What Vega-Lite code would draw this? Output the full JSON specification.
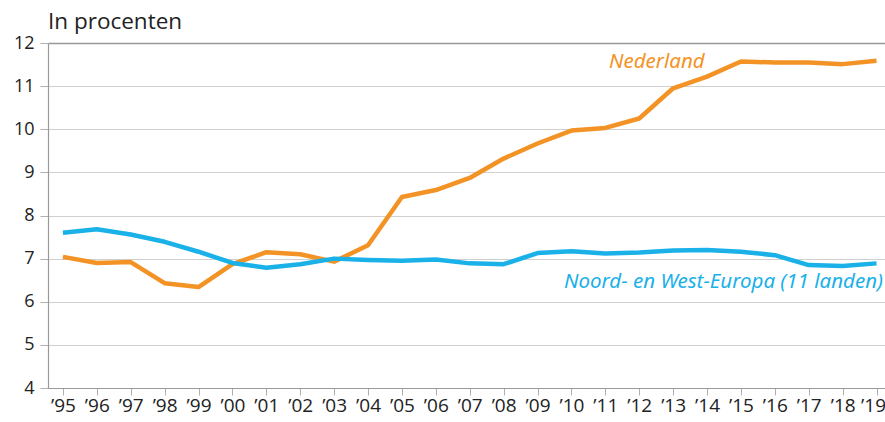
{
  "$schema": "https://vega.github.io/schema/vega-lite/v6.json",
  "width": 837,
  "height": 345,
  "autosize": {"type": "none"},
  "padding": {"left": 48, "top": 43, "right": 0, "bottom": 34},
  "background": "white",
  "config": {"view": {"stroke": null}, "font": "Open Sans"},
  "title": {"text": "In procenten", "anchor": "start", "frame": "group", "fontSize": 22.5, "fontWeight": "normal", "color": "#222", "offset": 1, "font": "Open Sans"},
  "datasets": {
    "series": [
      {"year": 1995, "series": "Nederland", "value": 7.04},
      {"year": 1996, "series": "Nederland", "value": 6.90},
      {"year": 1997, "series": "Nederland", "value": 6.92},
      {"year": 1998, "series": "Nederland", "value": 6.43},
      {"year": 1999, "series": "Nederland", "value": 6.34},
      {"year": 2000, "series": "Nederland", "value": 6.87},
      {"year": 2001, "series": "Nederland", "value": 7.15},
      {"year": 2002, "series": "Nederland", "value": 7.10},
      {"year": 2003, "series": "Nederland", "value": 6.93},
      {"year": 2004, "series": "Nederland", "value": 7.31},
      {"year": 2005, "series": "Nederland", "value": 8.43},
      {"year": 2006, "series": "Nederland", "value": 8.59},
      {"year": 2007, "series": "Nederland", "value": 8.87},
      {"year": 2008, "series": "Nederland", "value": 9.32},
      {"year": 2009, "series": "Nederland", "value": 9.67},
      {"year": 2010, "series": "Nederland", "value": 9.97},
      {"year": 2011, "series": "Nederland", "value": 10.03},
      {"year": 2012, "series": "Nederland", "value": 10.25},
      {"year": 2013, "series": "Nederland", "value": 10.95},
      {"year": 2014, "series": "Nederland", "value": 11.22},
      {"year": 2015, "series": "Nederland", "value": 11.57},
      {"year": 2016, "series": "Nederland", "value": 11.55},
      {"year": 2017, "series": "Nederland", "value": 11.55},
      {"year": 2018, "series": "Nederland", "value": 11.51},
      {"year": 2019, "series": "Nederland", "value": 11.59},
      {"year": 1995, "series": "NWE", "value": 7.60},
      {"year": 1996, "series": "NWE", "value": 7.68},
      {"year": 1997, "series": "NWE", "value": 7.56},
      {"year": 1998, "series": "NWE", "value": 7.39},
      {"year": 1999, "series": "NWE", "value": 7.16},
      {"year": 2000, "series": "NWE", "value": 6.90},
      {"year": 2001, "series": "NWE", "value": 6.79},
      {"year": 2002, "series": "NWE", "value": 6.87},
      {"year": 2003, "series": "NWE", "value": 7.00},
      {"year": 2004, "series": "NWE", "value": 6.97},
      {"year": 2005, "series": "NWE", "value": 6.95},
      {"year": 2006, "series": "NWE", "value": 6.98},
      {"year": 2007, "series": "NWE", "value": 6.89},
      {"year": 2008, "series": "NWE", "value": 6.87},
      {"year": 2009, "series": "NWE", "value": 7.13},
      {"year": 2010, "series": "NWE", "value": 7.17},
      {"year": 2011, "series": "NWE", "value": 7.12},
      {"year": 2012, "series": "NWE", "value": 7.14},
      {"year": 2013, "series": "NWE", "value": 7.19},
      {"year": 2014, "series": "NWE", "value": 7.20},
      {"year": 2015, "series": "NWE", "value": 7.16},
      {"year": 2016, "series": "NWE", "value": 7.08},
      {"year": 2017, "series": "NWE", "value": 6.85},
      {"year": 2018, "series": "NWE", "value": 6.83},
      {"year": 2019, "series": "NWE", "value": 6.89}
    ],
    "labels": [
      {"year": 2012.52, "series": "Nederland", "value": 11.57, "label": "Nederland"},
      {"year": 2019.19, "series": "NWE", "value": 6.45, "label": "Noord- en West-Europa (11 landen)"}
    ]
  },
  "encoding": {
    "x": {"field": "year", "type": "quantitative",
      "scale": {"domain": [1994.56, 2019.25], "nice": false, "zero": false},
      "axis": {"title": null, "values": [1995,1996,1997,1998,1999,2000,2001,2002,2003,2004,2005,2006,2007,2008,2009,2010,2011,2012,2013,2014,2015,2016,2017,2018,2019],
        "format": "d", "labelExpr": "'’' + substring(datum.label, 2)", "grid": false,
        "labelOverlap": false, "labelBound": false, "labelFlush": false,
        "labelAlign": {"condition": {"test": "datum.value === 2019", "value": "right"}, "value": "center"},
        "labelOffset": {"condition": {"test": "datum.value === 2019", "value": 9}, "value": 0},
        "domainColor": "#9a9a9a", "domainWidth": 1.2, "tickColor": "#b0b0b0", "tickSize": 7,
        "labelFontSize": 19, "labelColor": "#222", "labelPadding": 1, "labelFont": "Open Sans"}},
    "y": {"field": "value", "type": "quantitative",
      "scale": {"domain": [4, 12], "nice": false, "zero": false},
      "axis": {"title": null, "values": [4,5,6,7,8,9,10,11,12], "grid": true,
        "gridColor": {"condition": {"test": "datum.value === 12", "value": "#999999"}, "value": "#cfcfcf"},
        "gridWidth": {"condition": {"test": "datum.value === 12", "value": 1.5}, "value": 1},
        "domainColor": "#9a9a9a", "domainWidth": 1.2, "tickColor": "#b0b0b0", "tickSize": 8,
        "labelFontSize": 18, "labelColor": "#222", "labelPadding": 6, "labelFont": "Open Sans"}},
    "color": {"field": "series", "type": "nominal",
      "scale": {"domain": ["Nederland", "NWE"], "range": ["#F39325", "#1AB1E8"]}, "legend": null}
  },
  "layer": [
    {
      "data": {"name": "series"},
      "mark": {"type": "line", "strokeWidth": 4.5, "strokeJoin": "round"}
    },
    {
      "data": {"name": "labels"},
      "transform": [{"filter": "datum.series === 'Nederland'"}],
      "mark": {"type": "text", "fontStyle": "italic", "fontWeight": "normal", "fontSize": 20.5, "align": "center", "baseline": "middle", "font": "Noto Sans"},
      "encoding": {"text": {"field": "label"}}
    },
    {
      "data": {"name": "labels"},
      "transform": [{"filter": "datum.series === 'NWE'"}],
      "mark": {"type": "text", "fontStyle": "italic", "fontWeight": "normal", "fontSize": 20.5, "align": "right", "baseline": "middle", "font": "Noto Sans"},
      "encoding": {"text": {"field": "label"}}
    }
  ]
}
